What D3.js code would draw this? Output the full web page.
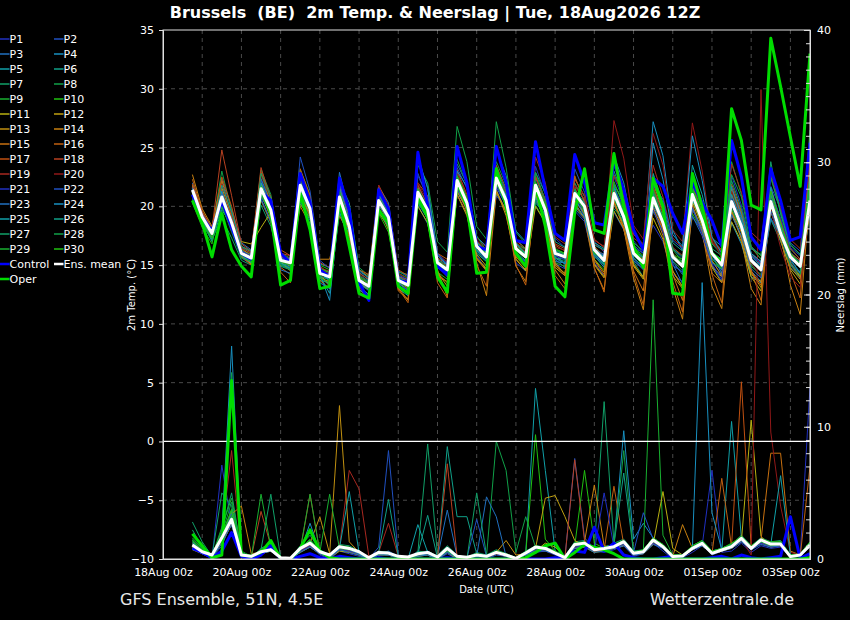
<!DOCTYPE html>
<html>
<head>
<meta charset="utf-8">
<script src="https://cdn.jsdelivr.net/npm/d3@7"></script>
<style>
  body { margin: 0; background: #000; }
  svg { display: block; font-family: "DejaVu Sans", sans-serif; }
</style>
</head>
<body>
<svg id="chart" width="850" height="620"></svg>
<script>
// 6-hourly steps, 18Aug 18z .. 03Sep 12z (64 steps)
const firstStep = Date.UTC(2026, 7, 18, 18);
const stepHours = 6;

const memberNames = ["P1","P2","P3","P4","P5","P6","P7","P8","P9","P10",
  "P11","P12","P13","P14","P15","P16","P17","P18","P19","P20",
  "P21","P22","P23","P24","P25","P26","P27","P28","P29","P30"];
const memberColors = ["#2030c0","#2050c0","#2070c0","#1890c0","#10a0a8","#10a088","#10a068","#10a048","#18b030","#20c010",
  "#b8b010","#c0a010","#c09010","#c88010","#c87010","#c06010","#c05010","#b84020","#a82820","#901818",
  "#2030c0","#2050c0","#2070c0","#1890c0","#10a0a8","#10a088","#10a068","#10a048","#18b030","#20c010"];

const tempTicks = [-10, -5, 0, 5, 10, 15, 20, 25, 30, 35];
const precipTicks = [0, 10, 20, 30, 40];
const dateTicks = ["2026-08-18","2026-08-20","2026-08-22","2026-08-24","2026-08-26","2026-08-28","2026-08-30","2026-09-01","2026-09-03"];

// 2m temperature (°C)
const ensMeanTemp = [21.4,19.1,17.7,20.8, 18.6,16.0,15.6,21.5, 19.7,15.4,15.2,21.8, 19.8,14.3,14.0,20.8,
  18.3,13.7,13.2,20.5, 19.1,13.7,13.3,21.2, 19.7,15.2,14.6,22.2, 20.3,16.6,15.7,22.4,
  20.5,16.4,15.7,21.8, 19.7,16.0,15.7,21.1, 20.0,16.3,15.4,21.1, 19.1,16.0,15.2,20.7,
  18.6,15.7,14.9,21.0, 18.8,16.0,15.0,20.4, 18.3,15.4,14.6,20.4, 17.7,15.7,14.9,20.5];
const controlTemp = [21.0,19.1,17.9,20.5, 18.2,16.0,15.5,21.2, 20.5,16.0,15.2,22.8, 20.3,14.6,14.0,22.4,
  19.7,13.5,12.0,21.4, 19.8,13.7,13.5,24.6, 20.0,14.9,14.2,25.1, 22.0,16.6,16.3,25.1,
  22.0,17.1,16.9,25.5, 21.4,17.7,17.1,24.4, 22.0,18.6,18.4,23.8, 21.4,18.0,16.3,22.4,
  21.7,19.4,17.7,22.0, 20.3,18.8,16.6,25.6, 22.5,17.4,16.3,23.2, 20.5,17.1,17.4,25.4];
const operTemp = [20.5,18.6,15.7,19.4, 16.3,14.9,14.0,21.5, 19.4,13.3,13.7,21.1, 18.0,13.0,13.2,20.5,
  16.6,12.6,12.2,19.7, 18.6,13.2,12.6,20.8, 19.1,14.0,12.7,22.1, 20.0,14.3,14.4,23.2,
  20.0,16.0,14.9,21.8, 18.3,13.2,12.3,19.5, 23.2,18.0,17.7,24.5, 20.0,16.6,14.8,22.4,
  20.0,12.6,12.5,22.8, 20.0,16.0,15.2,28.3, 25.6,20.1,19.7,34.3, 30.2,25.9,21.7,33.0];

const memberTemp = [
  // P1
  [21.8,19.3,17.9,21.5, 19.0,16.3,15.8,22.4, 20.1,15.8,15.0,22.9, 20.5,14.8,14.2,21.6, 18.9,14.0,13.1,19.8, 18.5,13.2,12.9,22.6, 20.8,15.9,15.1,21.0, 19.4,15.8,14.6,20.9, 19.8,15.2,14.5,23.4, 21.0,17.3,16.5,19.6, 18.7,15.2,14.1,22.5, 20.4,17.1,16.0,18.4, 17.0,14.2,13.6,19.7, 18.1,15.3,14.2,22.6, 20.1,16.6,15.8,18.9, 17.1,15.0,13.9,22.3],
  // P2
  [21.0,18.8,17.4,20.2, 18.2,15.6,15.1,20.8, 19.3,15.0,14.7,22.6, 20.4,14.5,13.6,21.5, 18.8,13.9,12.8,20.0, 19.0,14.1,13.5,24.0, 21.6,16.0,15.2,23.3, 21.5,17.0,16.2,21.4, 19.6,15.8,15.3,20.6, 18.9,15.1,14.7,23.2, 21.2,17.0,16.1,19.5, 18.0,15.4,14.6,21.9, 20.1,16.4,15.5,19.1, 17.9,15.0,13.6,21.4, 19.6,15.9,15.0,21.7, 19.8,16.9,16.2,19.6],
  // P3
  [22.0,19.5,18.2,22.3, 19.8,16.9,16.3,22.0, 20.0,15.6,15.6,21.0, 19.2,14.0,13.9,22.9, 19.5,13.5,13.0,21.7, 20.3,14.5,14.0,20.1, 18.5,14.9,14.0,23.6, 21.9,17.4,16.6,22.9, 21.2,16.8,16.4,22.4, 20.3,15.5,14.8,19.8, 18.9,16.4,15.9,23.0, 20.8,16.5,15.3,22.7, 19.9,15.1,13.4,19.2, 17.5,14.8,14.1,19.5, 17.4,14.5,13.6,21.6, 18.8,16.1,15.3,23.2],
  // P4
  [21.5,19.0,17.5,20.0, 18.0,15.7,15.4,21.2, 19.1,15.2,14.9,21.4, 19.6,14.2,12.0,20.2, 17.7,13.2,12.5,21.0, 19.8,14.0,13.8,20.6, 19.1,15.0,14.3,21.8, 20.5,16.9,15.9,24.8, 22.6,17.9,17.0,20.8, 19.0,15.3,15.2,20.4, 19.5,15.8,14.8,24.3, 22.0,17.8,16.6,27.2, 24.3,18.0,16.2,21.6, 19.4,15.9,14.3,18.6, 16.8,14.0,13.5,19.5, 17.5,15.5,14.3,21.0],
  // P5
  [20.9,18.7,17.0,19.7, 18.4,16.2,15.9,22.3, 20.4,15.9,15.5,20.9, 19.2,14.0,13.8,21.7, 19.0,14.4,13.7,19.6, 18.3,13.0,12.4,21.8, 20.1,15.5,15.0,21.2, 19.8,16.0,15.3,23.4, 21.5,17.2,16.4,22.0, 20.0,16.3,16.0,21.9, 20.5,16.9,16.4,20.1, 18.6,15.6,14.8,19.6, 17.9,15.0,14.4,23.5, 21.0,17.3,16.6,21.3, 19.0,16.0,15.3,20.2, 18.3,15.3,14.4,24.8],
  // P6
  [21.2,19.2,17.8,21.2, 19.2,16.5,16.0,20.6, 18.8,14.9,14.6,22.5, 20.7,15.1,14.8,21.0, 18.6,14.2,13.6,20.9, 19.4,13.8,13.6,21.5, 19.9,15.4,14.9,22.9, 20.8,16.9,16.0,21.1, 19.6,16.1,15.4,20.3, 19.3,15.6,15.5,22.4, 20.8,16.6,15.6,21.8, 19.5,16.2,15.7,22.8, 20.3,16.9,16.2,20.5, 18.5,15.6,14.6,19.8, 18.0,15.2,14.6,22.6, 19.5,16.4,15.5,20.0],
  // P7
  [20.6,18.5,17.2,19.0, 17.3,15.4,15.0,20.1, 18.3,15.0,14.8,20.6, 18.5,13.7,13.5,19.4, 17.5,13.3,12.9,20.2, 18.9,13.6,13.2,20.7, 19.5,15.1,14.8,21.4, 20.0,16.5,15.5,22.6, 20.9,16.7,15.9,20.7, 19.2,15.7,15.1,22.0, 20.4,16.4,15.1,20.4, 18.6,15.3,14.0,21.6, 19.0,15.8,15.3,21.9, 19.9,16.8,15.9,20.6, 18.6,15.1,14.0,18.9, 17.0,14.7,14.0,19.4],
  // P8
  [21.9,19.4,18.0,23.0, 19.6,16.3,15.9,23.1, 21.0,16.0,15.6,22.0, 20.1,14.6,14.4,22.0, 19.8,14.8,14.1,21.3, 19.6,14.4,14.2,23.5, 22.0,17.0,16.1,26.8, 23.8,18.3,17.2,23.8, 21.8,17.2,16.4,21.6, 19.5,16.1,15.8,20.8, 19.8,16.1,15.2,20.6, 19.0,15.8,15.0,20.3, 18.5,15.4,14.5,20.7, 18.2,15.5,14.8,23.8, 21.0,17.3,16.6,22.4, 19.6,16.8,15.9,26.5],
  // P9
  [21.3,19.0,17.6,20.4, 18.7,16.1,15.7,21.8, 19.9,15.5,15.3,21.3, 19.3,14.3,14.1,20.5, 18.0,13.4,13.0,21.4, 19.8,14.3,13.9,20.4, 18.9,14.4,13.8,21.9, 20.1,16.2,15.8,22.0, 20.4,16.6,16.0,20.1, 18.7,15.2,14.9,21.4, 20.1,16.1,15.3,22.7, 20.9,16.9,16.2,21.4, 19.7,16.3,15.3,20.4, 18.6,15.9,15.3,19.6, 17.8,14.9,14.2,21.2, 18.9,16.0,15.1,22.0],
  // P10
  [20.3,18.2,16.8,21.0, 18.9,16.0,15.5,21.9, 19.5,15.2,15.0,23.1, 21.0,15.0,14.6,20.0, 18.2,13.9,13.5,19.4, 17.8,13.4,13.1,21.0, 19.6,15.3,14.7,22.5, 20.8,16.6,15.6,22.8, 21.0,16.9,16.3,21.3, 20.1,16.3,16.0,20.6, 19.3,15.5,14.6,21.5, 19.8,16.4,15.4,20.9, 18.9,15.9,15.5,19.4, 17.9,15.3,14.7,21.3, 19.4,16.5,15.8,19.9, 18.0,15.9,15.0,21.5],
  // P11
  [21.6,19.3,18.0,20.6, 18.0,17.0,16.8,18.2, 19.5,16.0,15.3,20.2, 19.0,14.5,14.1,19.8, 18.0,13.7,13.1,19.5, 18.2,13.5,12.9,20.0, 18.6,14.3,13.5,21.0, 19.2,15.6,14.6,21.3, 19.6,15.5,14.5,20.0, 18.6,14.8,14.1,20.5, 19.4,15.1,14.0,19.6, 18.1,14.9,13.8,19.0, 17.2,14.1,13.0,19.9, 18.0,14.8,13.5,18.7, 17.0,14.0,12.8,21.0, 18.5,15.1,14.0,20.8],
  // P12
  [21.1,18.9,17.3,20.7, 18.5,15.8,15.1,21.0, 19.4,15.3,14.5,21.0, 19.4,13.9,13.6,20.3, 18.0,13.5,12.9,20.5, 18.8,13.3,12.6,20.6, 19.0,14.4,13.2,21.7, 19.6,15.9,14.9,21.4, 19.2,15.5,14.6,21.0, 18.5,15.0,14.3,20.3, 19.0,15.5,14.4,20.4, 18.3,15.0,14.0,19.9, 18.0,14.5,13.1,20.4, 18.3,14.9,14.0,19.3, 17.4,14.2,13.6,19.6, 17.1,14.6,13.4,19.8],
  // P13
  [21.8,19.4,17.9,21.6, 19.1,16.4,15.8,22.0, 19.9,15.5,14.9,22.2, 20.1,14.2,13.3,21.6, 18.7,13.2,12.2,20.9, 19.4,13.1,12.0,21.3, 19.4,14.3,12.6,22.4, 20.2,15.6,14.7,22.9, 20.6,15.9,15.0,21.5, 19.4,15.2,14.2,20.8, 19.7,15.0,13.9,21.4, 19.5,15.1,13.9,22.0, 19.6,14.5,13.2,21.7, 19.3,15.4,14.1,21.0, 18.7,14.4,13.1,20.3, 18.0,14.8,13.8,20.1],
  // P14
  [22.7,19.8,18.3,22.2, 19.2,16.0,15.5,22.8, 20.3,15.8,15.2,20.0, 18.5,15.5,15.5,19.2, 17.6,14.6,14.0,19.9, 18.0,13.8,13.0,21.6, 19.5,14.6,12.3,21.3, 19.7,15.2,12.4,21.2, 19.5,14.9,13.6,20.9, 18.9,14.6,13.4,20.0, 19.0,14.7,12.9,20.5, 18.1,13.9,11.2,19.8, 17.5,13.1,10.4,20.1, 17.9,13.2,11.3,19.6, 17.2,13.0,11.6,20.5, 17.5,13.3,10.8,21.0],
  // P15
  [21.7,19.2,17.7,20.5, 18.1,15.7,15.2,21.1, 19.0,14.8,14.2,21.3, 19.1,13.7,13.0,20.1, 17.3,12.9,12.3,20.2, 18.6,12.8,12.1,20.8, 19.3,14.1,13.6,21.0, 19.4,15.5,14.5,22.0, 20.2,15.7,14.8,21.0, 19.1,15.0,14.1,21.5, 19.2,15.4,14.2,20.3, 18.1,14.5,12.8,21.0, 18.2,14.2,12.0,19.9, 17.7,14.3,13.5,19.6, 17.8,14.5,13.3,21.0, 18.4,15.2,14.1,19.9],
  // P16
  [22.3,19.6,18.1,21.4, 18.8,15.7,15.0,20.5, 18.6,14.4,13.5,23.2, 20.9,14.1,13.2,22.0, 18.9,13.0,12.2,20.8, 19.5,13.0,11.8,21.0, 18.8,13.5,12.2,22.6, 20.4,15.0,13.2,22.2, 20.0,15.0,13.3,21.3, 18.6,14.1,13.0,22.6, 20.3,14.8,12.7,20.8, 19.0,14.3,11.6,20.4, 18.0,13.6,11.0,21.8, 19.2,14.2,11.8,21.5, 19.4,14.6,12.0,20.4, 18.7,14.4,12.2,22.5],
  // P17
  [21.5,19.0,17.6,22.5, 20.0,16.6,16.1,22.9, 20.8,16.3,15.8,22.7, 20.8,15.2,14.8,21.2, 19.3,14.6,14.2,21.8, 20.1,14.6,14.1,22.0, 20.9,16.0,15.5,22.1, 20.7,16.9,16.2,21.9, 20.3,16.7,16.1,22.5, 20.5,16.7,16.2,21.6, 19.8,16.6,15.7,21.0, 19.4,16.1,15.5,21.3, 19.2,16.0,15.0,22.8, 20.4,17.0,16.2,21.9, 19.6,16.0,15.1,21.5, 18.6,16.0,15.4,23.8],
  // P18
  [21.9,19.5,18.1,24.8, 20.9,16.8,16.2,23.3, 20.6,16.0,15.8,22.5, 20.6,14.9,14.3,21.2, 18.8,14.3,13.8,21.1, 19.6,14.1,13.6,21.8, 20.1,15.6,15.1,23.1, 21.0,17.1,16.3,23.5, 21.4,17.1,16.4,22.6, 20.6,16.8,16.4,22.3, 20.9,17.2,16.5,23.6, 21.0,17.6,16.8,21.7, 19.4,16.5,15.8,21.9, 19.5,16.9,16.1,20.9, 19.4,16.5,15.5,21.3, 18.8,16.4,15.5,22.9],
  // P19
  [21.0,18.9,17.5,21.9, 19.3,16.4,16.0,21.6, 19.9,15.6,15.4,21.5, 20.5,14.7,14.5,20.9, 18.6,14.0,13.4,20.9, 19.3,14.0,13.5,21.4, 19.7,15.4,14.9,22.4, 20.5,16.9,16.2,22.6, 21.2,16.7,16.1,24.2, 22.0,17.4,16.8,21.7, 20.6,17.1,16.6,22.6, 21.0,17.3,16.7,23.5, 20.8,17.3,16.5,22.4, 20.3,17.2,16.3,23.6, 21.2,17.8,17.0,22.8, 19.9,17.2,16.4,24.0],
  // P20
  [21.3,19.1,17.7,21.3, 18.8,16.2,15.8,22.6, 20.6,15.8,15.6,22.9, 20.7,14.7,14.2,21.4, 18.9,14.2,13.5,21.8, 19.7,14.3,13.8,22.0, 20.4,15.8,15.3,22.8, 20.9,17.3,16.5,23.1, 21.4,17.0,16.1,22.0, 20.3,16.5,16.3,21.8, 21.0,16.8,16.2,27.3, 24.1,18.4,17.2,26.2, 23.5,18.0,17.0,27.1, 23.0,17.4,15.5,21.3, 18.8,15.2,14.0,19.8, 16.5,14.0,13.1,20.4],
  // P21
  [21.4,19.2,17.9,20.9, 18.4,15.9,15.5,21.2, 19.5,15.3,15.0,21.8, 19.8,14.3,13.9,20.6, 18.1,13.6,13.1,19.9, 18.5,13.4,12.9,20.7, 19.3,15.0,14.4,22.0, 20.6,16.6,15.9,21.8, 20.0,16.0,15.2,21.3, 19.4,15.8,15.5,20.6, 19.6,16.0,15.2,21.5, 20.0,16.5,16.0,19.7, 17.8,15.0,14.4,19.9, 17.6,15.1,13.8,20.7, 18.7,15.8,15.2,21.1, 19.0,16.5,15.8,25.5],
  // P22
  [21.6,19.3,17.8,21.1, 18.9,16.2,15.8,22.2, 20.2,15.6,15.3,24.2, 21.3,15.4,14.7,21.8, 19.3,14.5,13.9,21.6, 19.5,14.2,13.7,22.8, 20.7,16.0,15.0,21.5, 20.0,16.3,15.4,21.6, 20.1,16.5,15.7,21.2, 19.6,15.9,15.1,21.0, 19.9,16.3,15.8,21.9, 20.3,16.7,16.0,21.8, 20.6,17.1,16.4,20.7, 18.8,16.0,15.4,20.1, 18.4,15.6,14.8,19.6, 17.6,15.5,14.8,21.7],
  // P23
  [21.2,18.8,17.3,20.0, 18.3,15.8,15.3,20.6, 18.7,14.6,14.3,20.4, 18.8,13.5,13.0,21.0, 18.5,13.5,12.8,21.2, 19.0,13.5,12.8,21.5, 19.6,15.2,14.6,21.9, 19.8,16.2,15.5,22.0, 20.0,16.0,15.3,21.3, 19.5,16.0,15.6,20.8, 19.1,15.7,15.0,20.9, 18.8,15.4,14.7,20.0, 18.5,15.3,14.2,19.8, 18.0,15.2,14.6,19.3, 17.5,14.7,13.9,19.0, 17.5,15.1,14.3,20.3],
  // P24
  [21.5,19.1,17.6,21.3, 18.6,16.0,15.6,21.6, 19.6,15.6,15.1,21.4, 19.7,14.4,13.7,21.5, 18.9,13.8,13.0,20.2, 18.8,13.5,13.2,24.3, 21.5,15.8,15.0,23.0, 21.7,17.0,16.0,22.5, 20.9,16.8,16.0,20.8, 19.2,15.6,15.1,20.1, 19.1,15.9,15.1,21.0, 18.9,15.6,14.8,25.4, 22.3,17.6,16.6,26.0, 22.2,17.4,16.0,21.7, 19.2,16.0,15.3,20.6, 18.0,15.6,14.8,21.3],
  // P25
  [21.0,18.7,17.2,20.3, 18.3,15.8,15.2,22.0, 19.8,15.2,14.7,22.1, 20.3,14.1,12.6,19.6, 17.0,12.9,12.4,20.8, 18.8,13.3,12.7,21.3, 19.9,15.2,14.5,22.6, 20.4,16.8,16.1,22.8, 20.8,16.3,15.6,21.7, 19.9,16.2,15.9,21.2, 20.1,16.4,15.7,21.6, 19.4,16.0,15.3,21.1, 19.1,15.9,15.0,21.4, 19.0,15.8,15.1,21.0, 18.8,15.8,14.9,21.6, 18.4,15.9,15.2,22.7],
  // P26
  [21.3,19.0,17.7,21.8, 19.5,16.6,16.2,21.1, 19.2,15.1,14.8,21.6, 19.9,14.0,13.3,22.1, 20.3,14.6,13.9,21.0, 19.4,14.0,13.5,20.5, 19.0,14.8,14.2,22.1, 20.4,16.3,15.6,22.0, 20.6,16.4,15.9,22.9, 21.1,17.0,16.5,21.4, 20.3,16.7,16.3,20.9, 19.6,16.2,15.6,21.1, 18.8,15.7,14.8,20.5, 19.1,16.1,15.5,20.1, 18.6,15.5,14.8,21.0, 18.1,15.6,14.9,21.1],
  // P27
  [20.8,18.6,17.1,20.4, 18.7,16.0,15.5,22.8, 20.7,15.9,15.5,21.0, 19.7,14.5,14.2,20.9, 18.7,14.1,13.5,19.7, 18.2,13.6,13.4,20.3, 18.9,14.8,14.5,21.8, 19.9,16.1,15.3,23.2, 21.3,16.9,16.0,20.5, 19.0,15.6,15.3,20.9, 19.6,15.8,15.0,21.8, 20.5,16.5,15.6,22.1, 19.8,16.4,15.7,21.6, 19.5,16.4,15.8,22.2, 19.8,16.4,15.9,23.8, 19.3,16.7,15.9,20.9],
  // P28
  [21.4,19.1,17.8,20.1, 17.8,15.6,15.3,21.0, 19.4,15.0,14.6,21.2, 19.5,14.1,13.7,20.0, 18.2,13.6,13.1,20.4, 19.1,13.9,13.4,20.8, 19.4,15.0,14.4,24.0, 21.8,17.5,16.2,27.2, 23.3,17.8,16.8,22.9, 20.5,16.3,15.9,21.5, 19.4,16.1,15.6,19.8, 18.8,15.8,15.0,21.3, 19.0,15.9,15.1,20.7, 19.3,16.1,15.4,22.7, 20.8,16.6,15.5,20.1, 17.5,15.0,14.2,20.2],
  // P29
  [21.1,18.9,17.5,19.9, 18.1,15.8,15.5,21.4, 19.6,15.3,15.1,20.7, 19.0,13.9,13.5,20.8, 18.4,13.8,13.3,20.7, 19.2,13.8,13.3,21.1, 19.8,15.4,14.8,22.4, 20.6,16.6,15.9,22.2, 20.4,16.5,15.9,21.2, 19.7,16.1,15.6,21.0, 20.0,16.2,15.2,20.6, 19.0,15.9,15.3,20.2, 18.8,15.8,15.2,21.2, 19.2,15.9,15.1,19.8, 18.0,15.3,14.7,20.0, 17.9,15.6,14.8,21.6],
  // P30
  [20.8,18.6,17.3,20.5, 18.6,15.9,15.3,21.3, 19.8,15.3,15.0,22.4, 20.5,14.7,14.4,21.3, 18.6,14.0,13.4,20.3, 19.0,13.6,13.2,21.5, 19.8,15.3,14.7,22.6, 20.8,16.9,15.9,22.0, 20.2,16.2,15.6,22.1, 20.2,16.4,16.0,20.9, 19.8,16.0,15.4,22.1, 20.0,16.5,15.8,20.5, 18.6,15.6,15.2,21.5, 19.4,16.1,15.4,20.4, 18.2,15.4,14.5,21.3, 18.6,16.0,15.1,22.4]
];

// 6-hourly precipitation (mm)
const ensMeanPrecip = [1.06,0.55,0.3,1.6,3.0,0.3,0.2,0.55,0.7,0.1, 0.05,0.8,1.2,0.55,0.3,0.93,0.8,0.55,0.1,0.5,
  0.45,0.2,0.15,0.4,0.5,0.15,0.8,0.2,0.13,0.3, 0.2,0.5,0.3,0.05,0.45,0.9,0.8,0.45,0.1,1.1,
  1.2,0.7,0.8,0.93,1.31,0.43,0.55,1.44,0.93,0.18, 0.23,0.8,1.18,0.43,0.68,0.93,1.56,0.8,1.44,1.13,
  1.13,0.18,0.3,1.06];
const controlPrecip = [0.8,0.5,0.1,0.6,2.0,0.2,0,0.3,1.0,0, 0,0.2,0.4,0.1,0,0.2,0.1,0,0,0.1,
  0,0,0,0,0,0,0.1,0,0,0, 0,0,0,0,0,0,0,0.1,0,0.6,
  0.5,2.4,0.6,1.2,0.3,0.1,0,0,0.1,0.2, 0,0,0,0.1,0.2,0,0.3,0.1,0,0.1,
  0.2,3.2,0.05,0.4];
const operPrecip = [1.9,1.0,0.1,0.3,13.5,0.3,0.2,0.5,1.4,0, 0,0.8,2.2,0.6,0.1,0,0,0,0,0,
  0,0,0,0,0,0,0,0,0,0, 0,0,0,0,0.1,0.5,1.0,1.2,0,0.5,
  1.1,0.9,0.7,0.4,0,0,0,0,0,0, 0,0,0,0,0,0,0,0,0,0,
  0,0,0,0.1];

const memberPrecip = [
  [0.8,0.4,0,7.1,2.5,0.3,0,0.4,0.6,0, 0,0.5,1.0,0.3,0,0.6,0.4,0.2,0,0.3, 0.5,0,0,0.2,0.4,0,0.6,0,0,0.2, 0,0.4,0.2,0,0.3,0.5,0.6,0.3,0,0.8, 1.0,0.6,0.5,0.7,1.0,0.2,0.4,1.2,0.6,0, 0.1,0.5,1.0,6.7,0.5,0.6,1.2,0.5,1.0,0.8, 0.9,0.1,0.2,13.0],
  [1.2,0.6,0.1,1.0,2.8,0.2,0,0.7,0.9,0, 0,0.9,1.4,0.6,0.2,0.8,0.9,0.4,0,0.9, 8.2,0.3,0,0.5,0.3,0,0.4,0,0,0.1, 0,0.3,0.2,0,0.5,0.8,0.7,0.5,0.1,7.6, 1.6,0.8,0.6,1.0,1.4,0.3,0.5,1.4,0.8,0.1, 0.2,0.7,1.2,0.3,0.6,0.9,1.4,0.7,1.3,0.9, 1.1,0.2,0.3,1.2],
  [0.9,0.5,0.2,1.8,3.2,0.4,0.1,0.5,0.8,0.1, 0,0.6,1.1,0.4,0.1,1.0,0.7,0.5,0.1,0.4, 0.6,0.2,0.1,0.3,0.5,0.1,3.7,0.2,0,0.4, 0.2,0.6,0.4,0,0.5,0.9,0.8,0.4,0.1,1.0, 1.2,0.7,0.9,1.0,1.2,0.6,0.5,1.3,1.0,0.2, 0.2,0.9,1.1,0.5,0.7,1.0,1.5,0.9,1.2,1.1, 1.0,0.2,0.4,0.9],
  [1.0,0.5,0.2,2.0,16.1,0.5,0.1,0.6,0.7,0, 0,0.7,1.3,0.5,0.3,0.9,0.6,0.5,0,0.6, 0.4,0.2,0,0.4,0.6,0.2,0.7,0.1,0,0.3, 0.1,0.5,0.3,0,0.4,0.7,0.9,0.6,0.1,1.2, 1.3,0.9,0.8,1.1,9.7,1.5,2.7,1.6,0.9,0.3, 0.2,0.8,1.3,0.6,0.8,1.0,1.7,0.9,1.4,1.2, 1.2,0.2,0.3,1.1],
  [1.1,0.6,0.3,1.5,3.5,0.3,0.2,0.4,0.9,0.1, 0,0.8,1.2,0.6,0.2,0.9,0.8,0.6,0.1,0.5, 0.4,0.2,0,0.6,0.5,0.1,0.9,0.2,0.1,0.3, 0.2,0.5,0.2,0,0.4,12.9,6.7,0.6,0.2,1.1, 1.0,0.7,0.8,0.9,1.1,0.5,0.6,1.4,0.9,0.2, 0.3,0.9,1.2,0.4,0.6,10.4,1.6,0.8,1.5,1.0, 1.3,0.3,0.2,1.0],
  [0.9,0.5,0.1,1.3,2.9,0.2,0.1,0.6,0.8,0, 0,0.7,1.0,0.5,0.2,0.8,0.7,0.4,0,0.4, 0.5,0.1,0,0.3,0.4,0.1,8.5,3.2,3.2,0.4, 0.2,0.5,0.3,0.1,0.5,0.8,0.7,0.4,0.1,1.0, 1.1,0.6,0.7,0.9,1.2,0.4,0.5,1.3,0.9,0.1, 0.2,0.8,1.1,0.4,0.6,0.9,1.4,0.8,1.3,1.0, 1.1,0.2,0.3,1.1],
  [2.8,1.3,0.2,2.2,5.0,0.5,0.1,0.8,1.2,0.1, 0,1.0,1.8,0.7,0.3,1.1,1.0,0.6,0.1,0.6, 0.5,0.2,0.1,0.5,8.7,0.3,1.0,0.3,0.1,0.5, 0.3,0.7,0.4,0.1,0.6,1.0,0.9,0.5,0.2,1.3, 1.4,0.8,11.9,1.2,1.5,0.6,0.7,1.6,1.1,0.3, 0.3,1.0,1.4,0.6,0.8,1.1,1.8,1.0,1.6,1.3, 1.4,0.3,0.4,1.3],
  [1.4,0.7,0.2,1.9,4.3,0.4,0.1,0.5,0.7,0, 0,0.6,1.2,0.5,0.2,0.7,0.6,0.4,0,0.4, 0.3,0.1,0,0.4,0.5,0.1,0.6,0.1,0,0.3, 0.2,8.9,6.7,0.5,3.2,0.9,0.8,0.5,0.1,1.0, 1.2,0.7,0.8,1.0,1.3,0.4,0.6,1.4,1.0,0.2, 0.2,0.9,1.2,0.4,0.7,1.0,1.5,0.8,1.4,1.1, 1.2,0.2,0.3,1.0],
  [1.6,0.8,0.2,2.4,4.6,0.6,0.2,0.7,1.0,0.1, 0,0.8,1.5,0.6,0.3,1.0,0.9,0.5,0.1,0.5, 0.4,0.2,0,0.5,0.6,0.2,0.8,0.2,0.1,0.4, 0.2,0.6,0.3,0.1,0.5,0.9,0.8,0.5,0.1,1.1, 1.3,0.8,0.9,1.1,1.4,0.5,0.6,19.6,1.8,0.3, 0.3,0.9,1.3,0.5,0.8,1.1,1.6,0.9,1.5,1.2, 1.3,0.3,0.3,1.2],
  [1.3,0.7,0.1,1.7,3.8,0.4,0.1,0.6,0.9,0, 0,0.7,1.3,0.5,0.2,0.9,0.7,0.5,0,0.5, 0.4,0.1,0,0.4,0.5,0.1,0.7,0.1,0,0.3, 0.2,0.5,0.3,0,0.4,9.4,1.5,0.6,0.1,1.0, 6.7,1.2,0.8,1.0,1.3,0.4,0.6,1.5,1.0,0.2, 0.2,0.8,1.2,0.5,0.7,1.0,1.5,0.8,1.4,1.1, 1.2,0.2,0.3,1.0],
  [0.7,0.4,0.1,1.2,2.6,0.2,0,0.4,0.6,0, 0,0.5,0.9,0.4,0.1,0.6,0.5,0.3,0,0.3, 0.3,0.1,0,0.2,0.3,0,0.5,0,0,0.2, 0.1,0.4,0.2,0,0.3,0.6,1.2,0.9,0.2,0.8, 0.9,0.5,0.6,0.8,1.0,0.3,0.4,1.1,5.1,0.8, 0.3,0.7,1.0,0.4,0.6,0.8,1.3,10.5,1.7,1.0, 1.0,0.2,0.2,0.9],
  [0.9,0.5,0.1,1.4,3.1,0.3,0.1,0.5,0.8,0, 0,0.6,1.1,0.5,0.2,0.8,0.6,0.4,0,0.4, 0.4,0.1,0,0.3,0.4,0.1,0.6,0.1,0,0.3, 0.1,0.4,0.3,0,0.4,0.8,4.6,4.8,3.2,1.4, 1.0,0.6,0.7,0.9,1.1,0.4,0.5,1.2,0.9,0.2, 0.2,0.7,1.1,0.4,0.6,0.9,1.4,0.8,1.2,1.0, 1.1,0.2,0.3,1.0],
  [1.0,0.5,0.1,1.6,3.3,0.3,0.1,0.6,0.8,0, 0,0.7,1.2,3.2,0.4,11.6,1.3,0.5,0,0.5, 0.4,0.2,0,0.3,0.5,0.1,0.7,0.1,0,0.3, 0.2,0.5,1.4,0.3,0.4,0.9,0.8,0.5,0.1,1.1, 1.2,0.7,0.8,1.0,1.2,0.4,0.6,1.4,1.0,0.2, 0.2,0.8,1.2,0.5,0.7,1.0,1.5,0.8,1.3,1.1, 1.1,0.2,0.3,1.0],
  [1.1,0.6,0.2,1.5,3.4,4.0,0.4,0.5,0.7,0, 0,0.6,1.1,0.5,0.2,0.8,0.7,0.4,0,0.4, 0.3,0.1,0,0.3,0.4,0.1,0.6,0.1,0,0.3, 0.1,0.5,0.3,0,0.5,0.8,0.7,0.4,0.1,1.0, 1.3,5.6,1.0,0.9,1.2,0.4,0.5,1.3,0.9,0.2, 2.6,0.8,1.1,0.4,0.7,0.9,1.4,0.8,1.3,1.0, 1.1,0.2,0.3,1.1],
  [1.2,0.6,0.1,1.8,3.0,0.3,0.1,0.6,0.9,0, 0,0.8,1.3,0.6,0.2,0.9,0.8,0.5,0.1,0.5, 0.4,0.2,0,0.4,0.5,0.1,0.7,0.1,0,0.4, 0.2,0.6,0.3,0,0.4,0.9,0.8,0.5,0.1,1.1, 1.2,0.7,0.8,1.0,1.3,0.5,0.6,1.4,1.0,0.2, 0.3,0.9,1.2,0.5,0.7,1.0,1.6,0.9,1.4,8.0, 8.0,0.6,0.3,1.1],
  [1.0,0.5,0.1,1.3,2.7,0.3,0.1,0.5,0.7,0, 0,0.6,1.0,0.4,0.1,0.7,0.6,0.4,0,0.4, 0.3,0.1,0,0.3,0.4,0.1,0.5,0.1,0,0.2, 0.1,0.4,0.2,0,0.3,0.7,0.6,0.4,0.1,0.9, 1.0,0.6,0.7,5.5,1.1,0.4,0.5,1.2,0.8,0.2, 0.2,0.7,1.0,0.4,6.1,0.9,1.3,0.7,1.2,0.9, 1.0,0.2,0.2,7.0],
  [1.1,0.6,0.2,1.7,3.6,0.4,0.1,0.6,0.8,0.1, 0,0.7,1.2,0.5,0.2,0.8,0.7,0.5,0,0.5, 0.4,0.1,0,0.4,0.5,0.1,0.7,0.1,0,0.3, 0.2,0.5,0.3,0,0.4,0.9,0.8,0.5,0.1,1.0, 1.2,0.7,0.8,1.0,1.2,0.4,0.6,1.4,1.0,0.2, 0.2,0.8,1.2,0.5,0.7,1.0,13.4,0.9,1.3,1.0, 1.1,0.2,0.3,1.0],
  [1.0,0.5,0.1,1.5,3.1,0.3,0.1,3.6,1.0,0, 0,0.6,4.9,0.5,0.2,0.8,0.6,0.4,0,0.4, 0.4,0.1,0,0.3,0.5,0.1,7.2,0.2,0,0.3, 0.1,0.5,0.3,0,0.4,0.8,0.7,0.5,0.1,7.5, 1.4,0.7,0.8,1.0,1.2,0.4,0.5,1.3,0.9,0.2, 0.2,0.8,1.1,0.5,0.7,1.0,1.4,0.8,1.3,1.0, 1.1,0.2,0.3,1.0],
  [0.9,0.5,0.1,1.9,8.2,0.4,0.1,0.5,0.8,0, 0,0.6,1.1,0.5,0.2,0.9,6.7,5.3,0.2,0.5, 2.7,0.2,0,0.4,0.5,0.1,0.7,0.1,0,0.3, 0.2,0.5,0.3,0,0.4,0.8,0.7,0.4,0.1,1.0, 1.1,0.6,0.7,0.9,1.2,0.4,0.5,1.2,0.9,0.2, 0.2,0.8,1.1,0.4,0.6,0.9,1.4,0.8,1.2,1.0, 1.0,0.2,0.3,1.1],
  [1.1,0.6,0.1,1.6,3.3,0.3,0.1,0.6,0.8,0, 0,0.7,1.2,0.5,0.2,0.8,0.7,0.5,0,0.4, 0.4,0.1,0,0.3,0.5,0.1,0.6,0.1,0,0.3, 0.2,0.5,0.3,0,0.4,0.8,0.8,0.5,0.1,1.0, 1.2,0.7,0.8,1.0,1.3,0.4,0.6,1.3,1.0,0.2, 0.2,0.8,1.2,0.5,0.7,1.0,1.5,0.3,35.5,9.6, 4.0,0.5,0.3,1.0],
  [0.8,0.4,0.1,1.4,2.8,0.3,0.1,0.5,0.7,0, 0,0.6,1.0,0.4,0.1,0.7,0.6,0.4,0,0.4, 0.3,0.1,0,0.3,0.4,0.1,0.5,0.1,0,0.2, 0.1,0.4,0.2,0,0.3,0.7,0.6,0.4,0.1,0.9, 1.0,0.6,5.0,0.9,1.1,0.3,0.5,1.2,0.8,0.2, 0.2,0.7,1.0,0.4,0.6,0.9,1.3,0.7,1.2,0.9, 1.0,0.2,0.2,0.9],
  [1.2,0.6,0.2,1.7,3.4,0.4,0.1,0.6,0.9,0.1, 0,0.8,1.3,0.6,0.2,0.9,0.8,0.5,0.1,0.5, 0.5,0.2,0,0.4,0.6,0.1,0.8,0.2,0.1,3.0, 0.2,0.6,0.3,0,0.5,0.9,0.9,0.5,0.1,1.1, 1.2,0.8,0.9,1.1,1.3,0.5,3.5,1.5,1.0,0.2, 0.3,0.9,1.3,0.5,0.8,1.1,1.6,0.9,1.4,1.2, 1.2,0.3,0.3,1.2],
  [0.8,0.4,0.1,1.2,2.6,0.2,0,0.4,0.6,0, 0,0.5,0.9,0.4,0.1,0.7,0.5,0.3,0,0.3, 0.3,0.1,0,0.2,0.3,0,0.5,0.1,0,0.2, 4.7,3.2,0.2,0,0.3,0.6,0.6,0.4,0.1,0.8, 0.9,0.5,0.6,0.8,1.0,0.3,0.4,1.1,0.8,0.1, 0.2,0.7,1.0,0.4,0.6,0.8,1.3,0.7,1.1,0.9, 1.0,0.2,0.2,0.9],
  [1.0,0.5,0.1,1.5,3.0,0.3,0.1,0.5,0.8,0, 0,0.6,2.7,0.5,0.2,0.8,0.7,0.4,0,0.4, 0.4,0.1,0,0.3,0.4,0.1,0.6,0.1,0,0.3, 0.1,0.5,0.3,0,0.4,0.8,0.7,0.5,0.1,1.0, 1.1,0.7,0.8,1.0,1.2,0.4,0.5,1.3,0.9,0.2, 0.2,0.8,20.9,3.5,0.7,1.0,1.4,0.8,1.3,1.0, 1.1,0.2,0.3,1.0],
  [1.1,0.6,0.2,1.6,3.2,0.3,0.1,0.6,0.8,0, 0,0.7,1.2,0.5,0.2,0.8,5.1,0.5,0,0.4, 0.4,0.1,0,2.6,0.5,0.1,0.7,0.1,0,0.3, 0.2,0.5,0.3,0,0.4,0.8,0.8,0.5,0.1,1.0, 1.2,0.7,0.8,1.0,1.2,0.4,0.6,1.4,1.0,0.2, 0.2,0.8,1.2,0.5,0.7,1.0,1.5,0.8,1.3,1.1, 6.3,0.3,0.3,1.0],
  [1.3,0.7,0.2,1.8,3.6,0.4,0.1,0.6,0.9,0.1, 0,0.8,1.4,0.6,0.2,0.9,0.8,0.5,0.1,0.5, 4.5,0.2,0,0.4,3.3,0.1,0.8,0.2,0,0.4, 0.2,0.6,0.3,0,0.5,0.9,0.9,0.5,0.1,1.1, 1.3,0.8,0.9,1.1,6.5,0.5,0.6,1.5,1.0,0.2, 0.3,0.9,1.3,0.5,0.8,1.1,1.6,0.9,1.4,1.2, 1.2,0.3,0.3,1.1],
  [2.2,0.9,0.2,5.0,4.0,0.5,0.1,0.7,4.9,0.1, 0,0.8,1.4,0.6,0.2,0.9,0.8,0.5,0.1,0.5, 0.4,0.2,0,0.4,0.5,0.1,0.8,0.2,0,5.0, 0.3,0.6,0.3,0,0.5,0.9,0.8,0.5,0.1,1.1, 1.2,0.8,0.9,1.1,1.3,0.5,0.6,1.4,1.0,0.2, 0.3,0.9,1.2,0.5,0.8,1.1,1.6,0.9,1.4,1.1, 1.2,0.3,0.3,1.1],
  [1.5,0.8,0.2,1.9,14.1,0.5,0.1,0.6,0.9,0.1, 0,0.8,1.3,0.6,0.2,0.9,0.8,0.5,0.1,0.5, 0.4,0.2,0,0.4,0.5,0.1,0.7,0.2,0,0.3, 0.2,0.6,0.3,0,0.4,0.9,0.8,0.5,0.1,1.1, 1.2,0.8,0.9,1.1,8.2,0.5,0.6,1.5,1.0,0.2, 0.3,0.9,1.3,0.5,0.8,1.1,1.6,0.9,1.4,1.2, 1.2,0.3,0.3,1.2],
  [1.2,0.6,0.1,1.6,3.3,0.3,0.1,4.9,0.9,0, 0,0.7,4.9,0.5,4.9,0.8,0.7,0.5,0,0.4, 0.4,0.1,0,0.3,0.5,0.1,0.6,0.1,0,0.3, 0.2,0.5,0.3,0,0.4,0.8,0.8,0.5,0.1,1.0, 1.2,0.7,0.8,1.0,1.2,0.4,0.6,1.3,0.9,0.2, 0.2,0.8,1.2,0.5,0.7,1.0,1.5,0.8,1.3,1.0, 1.1,0.2,0.3,1.0],
  [1.4,0.7,0.2,1.8,3.7,0.4,0.1,0.7,1.0,0.1, 0,0.8,1.4,0.6,0.2,1.0,0.9,0.5,0.1,0.5, 0.5,0.2,0,0.4,0.5,0.1,0.8,0.2,0.1,0.4, 0.2,0.6,0.4,0.1,0.5,1.0,0.9,0.6,0.1,1.2, 1.3,0.8,0.9,1.1,1.4,0.5,0.7,1.6,1.1,0.3, 0.3,1.0,1.4,0.6,0.8,1.2,1.7,1.0,1.5,1.3, 1.3,0.3,0.4,1.3]
];

const width = 850;
const height = 620;
const plotL = 163, plotR = 810, plotT = 30, plotB = 559;

const svg = d3.select("#chart");
svg.append("rect").attr("width", width).attr("height", height).attr("fill", "#000");

const x = d3.scaleUtc()
  .domain([new Date(Date.UTC(2026, 7, 18, 0)), new Date(Date.UTC(2026, 8, 3, 12))])
  .range([plotL, plotR]);
const yTemp = d3.scaleLinear().domain([-10, 35]).range([plotB, plotT]);
const yPrecip = d3.scaleLinear().domain([0, 40]).range([plotB, plotT]);
const timeAt = i => new Date(firstStep + i * stepHours * 3600e3);

// grid
const days = d3.utcDay.range(new Date(Date.UTC(2026, 7, 19)), new Date(Date.UTC(2026, 8, 3, 1)));
svg.append("g")
  .selectAll("line")
  .data(days)
  .join("line")
  .attr("x1", d => x(d)).attr("x2", d => x(d))
  .attr("y1", plotT).attr("y2", plotB)
  .attr("stroke", "#4a4a4a")
  .attr("stroke-dasharray", "4,4");
svg.append("g")
  .selectAll("line")
  .data(tempTicks.filter(t => t > -10 && t < 35 && t !== 0))
  .join("line")
  .attr("x1", plotL).attr("x2", plotR)
  .attr("y1", d => yTemp(d)).attr("y2", d => yTemp(d))
  .attr("stroke", "#4a4a4a")
  .attr("stroke-dasharray", "4,4");

// clip for series
svg.append("clipPath").attr("id", "plot-clip")
  .append("rect").attr("x", plotL).attr("y", plotT).attr("width", plotR - plotL).attr("height", plotB - plotT);

const tempLine = d3.line().x((d, i) => x(timeAt(i))).y(d => yTemp(d));
const precipLine = d3.line().x((d, i) => x(timeAt(i))).y(d => yPrecip(d));

const plot = svg.append("g").attr("clip-path", "url(#plot-clip)");

// members: precipitation and temperature
memberTemp.forEach((row, m) => {
  plot.append("path").datum(memberPrecip[m])
    .attr("d", precipLine)
    .attr("fill", "none").attr("stroke", memberColors[m]).attr("stroke-width", 1);
  plot.append("path").datum(row)
    .attr("d", tempLine)
    .attr("fill", "none").attr("stroke", memberColors[m]).attr("stroke-width", 1);
});

// zero line
plot.append("line")
  .attr("x1", plotL).attr("x2", plotR)
  .attr("y1", yTemp(0)).attr("y2", yTemp(0))
  .attr("stroke", "#fff").attr("stroke-width", 1.2);

const mainSeries = [
  { temp: controlTemp, precip: controlPrecip, color: "#0000ff" },
  { temp: operTemp, precip: operPrecip, color: "#00dd00" },
  { temp: ensMeanTemp, precip: ensMeanPrecip, color: "#ffffff" }
];
mainSeries.forEach(s => {
  plot.append("path").datum(s.precip)
    .attr("d", precipLine)
    .attr("fill", "none").attr("stroke", s.color).attr("stroke-width", 3)
    .attr("stroke-linejoin", "round");
  plot.append("path").datum(s.temp)
    .attr("d", tempLine)
    .attr("fill", "none").attr("stroke", s.color).attr("stroke-width", 3)
    .attr("stroke-linejoin", "round");
});

// frame
svg.append("rect")
  .attr("x", plotL).attr("y", plotT)
  .attr("width", plotR - plotL).attr("height", plotB - plotT)
  .attr("fill", "none").attr("stroke", "#e0e0e0").attr("stroke-width", 1);

// axes
svg.append("g")
  .attr("transform", `translate(${plotL},0)`)
  .call(d3.axisLeft(yTemp).tickValues(tempTicks).tickSize(4).tickPadding(5));
svg.append("g")
  .attr("transform", `translate(${plotR},0)`)
  .call(d3.axisRight(yPrecip).tickValues(precipTicks).tickSize(-6).tickPadding(7));
svg.append("g")
  .attr("transform", `translate(${plotR},0)`)
  .call(d3.axisRight(yPrecip).ticks(40).tickSize(-4).tickFormat(""));
svg.append("g")
  .attr("transform", `translate(0,${plotB})`)
  .call(d3.axisBottom(x)
    .tickValues(dateTicks.map(d => new Date(d + "T00:00:00Z")))
    .tickSize(0).tickPadding(9)
    .tickFormat(d3.utcFormat("%d%b %Hz")));

svg.selectAll(".domain").attr("stroke", "#e0e0e0");
svg.selectAll(".tick line").attr("stroke", "#e0e0e0");
svg.selectAll(".tick text").attr("fill", "#fff").attr("font-size", 11)
  .attr("font-family", "DejaVu Sans, sans-serif");

// axis titles
svg.append("text")
  .attr("transform", "translate(135,295) rotate(-90)")
  .attr("text-anchor", "middle").attr("fill", "#fff").attr("font-size", 10)
  .text("2m Temp. (°C)");
svg.append("text")
  .attr("transform", "translate(844,295) rotate(-90)")
  .attr("text-anchor", "middle").attr("fill", "#fff").attr("font-size", 10)
  .text("Neerslag (mm)");
svg.append("text")
  .attr("x", (plotL + plotR) / 2).attr("y", 593)
  .attr("text-anchor", "middle").attr("fill", "#fff").attr("font-size", 10)
  .text("Date (UTC)");

// title and footer
svg.append("text")
  .attr("x", 435).attr("y", 18)
  .attr("text-anchor", "middle").attr("fill", "#fff")
  .attr("font-size", 16).attr("font-weight", "bold")
  .style("white-space", "pre")
  .text("Brussels  (BE)  2m Temp. & Neerslag | Tue, 18Aug2026 12Z");
svg.append("text")
  .attr("x", 120).attr("y", 605)
  .attr("fill", "#e8e8e8").attr("font-size", 16)
  .text("GFS Ensemble, 51N, 4.5E");
svg.append("text")
  .attr("x", 794).attr("y", 605)
  .attr("text-anchor", "end").attr("fill", "#e8e8e8").attr("font-size", 16)
  .text("Wetterzentrale.de");

// legend
const legendItems = memberNames.map((n, i) => ({ name: n, color: memberColors[i], w: 1.5 }))
  .concat([
    { name: "Control", color: "#0000ff", w: 2.5 },
    { name: "Ens. mean", color: "#ffffff", w: 2.5 },
    { name: "Oper", color: "#00dd00", w: 2.5 }
  ]);
const legend = svg.append("g").attr("font-size", 11);
legendItems.forEach((item, j) => {
  const col = j % 2, row = Math.floor(j / 2);
  const lx = col === 0 ? 0 : 54;
  const ly = 39 + row * 15;
  legend.append("line")
    .attr("x1", lx).attr("x2", lx + 9.5)
    .attr("y1", ly).attr("y2", ly)
    .attr("stroke", item.color).attr("stroke-width", item.w);
  legend.append("text")
    .attr("x", lx + 9.5).attr("y", ly).attr("dy", "0.36em")
    .attr("fill", "#fff")
    .text(item.name);
});
</script>
</body>
</html>
